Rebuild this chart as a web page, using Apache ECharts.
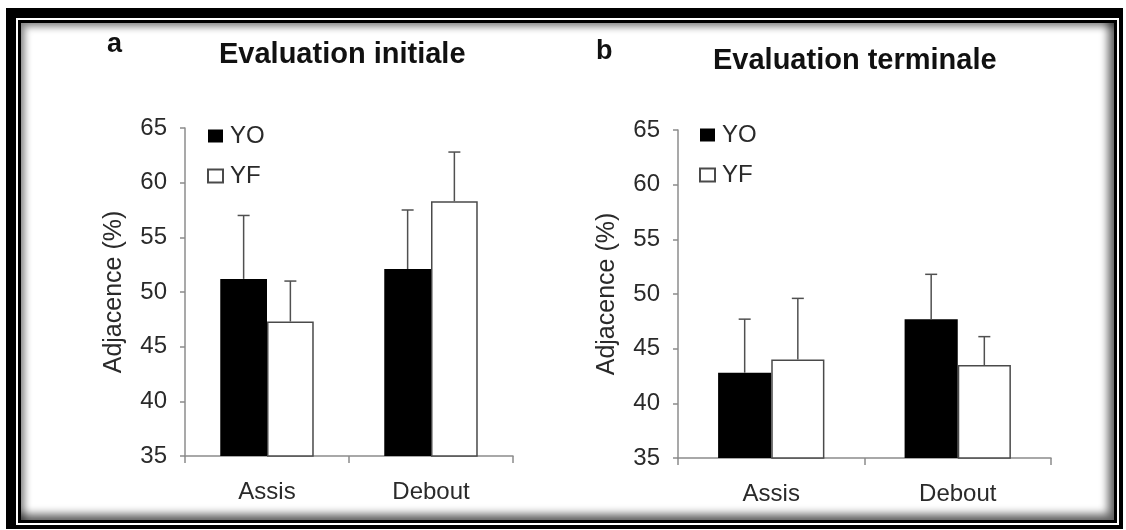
<!DOCTYPE html>
<html>
<head>
<meta charset="utf-8">
<script src="https://cdn.jsdelivr.net/npm/echarts@6/dist/echarts.min.js"></script>
<style>
  html, body { margin:0; padding:0; background:#fff; }
  #wrap { position:relative; width:1126px; height:530px; overflow:hidden; }
  .f { position:absolute; }
  #chart { position:absolute; left:0; top:0; width:1126px; height:530px; }
</style>
</head>
<body>
<div id="wrap">
  <div class="f" style="left:6px;top:8px;width:1117px;height:521px;background:#000;"></div>
  <div class="f" style="left:16px;top:18px;width:1103px;height:507px;background:#fff;"></div>
  <div class="f" style="left:18px;top:20px;width:1099px;height:503px;background:#000;"></div>
  <div class="f" style="left:21px;top:23px;width:1093px;height:497px;background:#fff;box-shadow: inset 4px 4px 7px rgba(0,0,0,0.45), inset -6px -6px 9px rgba(0,0,0,0.6);"></div>
  <div id="chart"></div>
</div>
<script>
// ---- data ----
const categories = ['Assis', 'Debout'];
const seriesNames = ['YO', 'YF'];
const yTicks = [35, 40, 45, 50, 55, 60, 65];
// Panel a : Evaluation initiale
const initYO = [51.2, 52.1];
const initYOsd = [5.8, 5.4];
const initYF = [47.3, 58.3];
const initYFsd = [3.7, 4.5];
// Panel b : Evaluation terminale
const termYO = [42.8, 47.7];
const termYOsd = [4.9, 4.1];
const termYF = [44.0, 43.5];
const termYFsd = [5.6, 2.6];

const FONT = "'Liberation Sans', Arial, sans-serif";
const BARW = 0.285;
const AXIS_COL = '#8c8c8c';
const TXT = '#2a2a2a';

function errData(means, sds) {
  return means.map((m, i) => [i, m, m + sds[i]]);
}
function errRender(sign) {
  return function (params, api) {
    const ci = api.value(0), top = api.value(1), hi = api.value(2);
    const p0 = api.coord([ci, top]);
    const p1 = api.coord([ci, hi]);
    const band = api.size([1, 0])[0];
    const x = p0[0] + sign * band * BARW / 2;
    const cap = 6;
    const st = { stroke: '#505050', lineWidth: 1.5 };
    return {
      type: 'group',
      children: [
        { type: 'line', shape: { x1: x, y1: p0[1], x2: x, y2: p1[1] }, style: st },
        { type: 'line', shape: { x1: x - cap, y1: p1[1], x2: x + cap, y2: p1[1] }, style: st }
      ]
    };
  };
}

function yAxis(gi) {
  return {
    type: 'value', gridIndex: gi, min: 35, max: 65, interval: 5,
    name: 'Adjacence (%)', nameLocation: 'middle', nameGap: 58,
    nameTextStyle: { fontFamily: FONT, fontSize: 25, color: TXT },
    axisLine: { show: true, lineStyle: { color: AXIS_COL, width: 1.5 } },
    axisTick: { show: true, length: 5, lineStyle: { color: AXIS_COL, width: 1.5 } },
    axisLabel: { fontFamily: FONT, fontSize: 24, color: TXT, margin: 18,
      formatter: v => (yTicks.indexOf(v) >= 0 ? String(v) : '') },
    splitLine: { show: false }
  };
}
function xAxis(gi) {
  return {
    type: 'category', gridIndex: gi, data: categories,
    axisLine: { show: true, lineStyle: { color: AXIS_COL, width: 1.5 } },
    axisTick: { show: true, length: 7, lineStyle: { color: AXIS_COL, width: 1.5 } },
    axisLabel: { fontFamily: FONT, fontSize: 24, color: TXT, margin: 24 }
  };
}
const blackStyle = { color: '#000', borderColor: '#000', borderWidth: 0 };
const whiteStyle = { color: '#fff', borderColor: '#4a4a4a', borderWidth: 1.5 };

function barSeries(name, data, gi, style) {
  return {
    type: 'bar', name: name, data: data, xAxisIndex: gi, yAxisIndex: gi,
    barWidth: (BARW * 100) + '%', barGap: '0%', itemStyle: style,
    emphasis: { disabled: true }, animation: false
  };
}
function errSeries(data, gi, sign) {
  return {
    type: 'custom', name: 'err', data: data, xAxisIndex: gi, yAxisIndex: gi,
    renderItem: errRender(sign), encode: { x: 0, y: [1, 2] }, z: 5,
    silent: true, animation: false
  };
}
function legend(left, top) {
  return {
    data: seriesNames, orient: 'vertical', left: left, top: top,
    icon: 'rect', itemWidth: 15, itemHeight: 13, itemGap: 16, padding: 0,
    textStyle: { fontFamily: FONT, fontSize: 24, color: TXT, padding: [0, 0, 0, 2] },
    selectedMode: false
  };
}
const titleStyle = { fontFamily: FONT, fontSize: 29, fontWeight: 'bold', color: '#111' };
const letterStyle = { fontFamily: FONT, fontSize: 27, fontWeight: 'bold', color: '#111' };

const option = {
  backgroundColor: 'transparent',
  animation: false,
  title: [
    { text: 'a', left: 107, top: 31, padding: 0, textStyle: letterStyle },
    { text: 'Evaluation initiale', left: 219, top: 40, padding: 0, textStyle: titleStyle },
    { text: 'b', left: 596, top: 38, padding: 0, textStyle: letterStyle },
    { text: 'Evaluation terminale', left: 713, top: 46, padding: 0, textStyle: titleStyle }
  ],
  legend: [legend(207, 124), legend(699, 123)],
  grid: [
    { left: 185, top: 128, width: 328, height: 328 },
    { left: 678, top: 130, width: 373, height: 328 }
  ],
  xAxis: [xAxis(0), xAxis(1)],
  yAxis: [yAxis(0), yAxis(1)],
  series: [
    barSeries('YO', initYO, 0, blackStyle),
    barSeries('YF', initYF, 0, whiteStyle),
    barSeries('YO', termYO, 1, blackStyle),
    barSeries('YF', termYF, 1, whiteStyle),
    errSeries(errData(initYO, initYOsd), 0, -1),
    errSeries(errData(initYF, initYFsd), 0, 1),
    errSeries(errData(termYO, termYOsd), 1, -1),
    errSeries(errData(termYF, termYFsd), 1, 1)
  ]
};
const chart = echarts.init(document.getElementById('chart'), null, { renderer: 'canvas' });
chart.setOption(option);
</script>
</body>
</html>
